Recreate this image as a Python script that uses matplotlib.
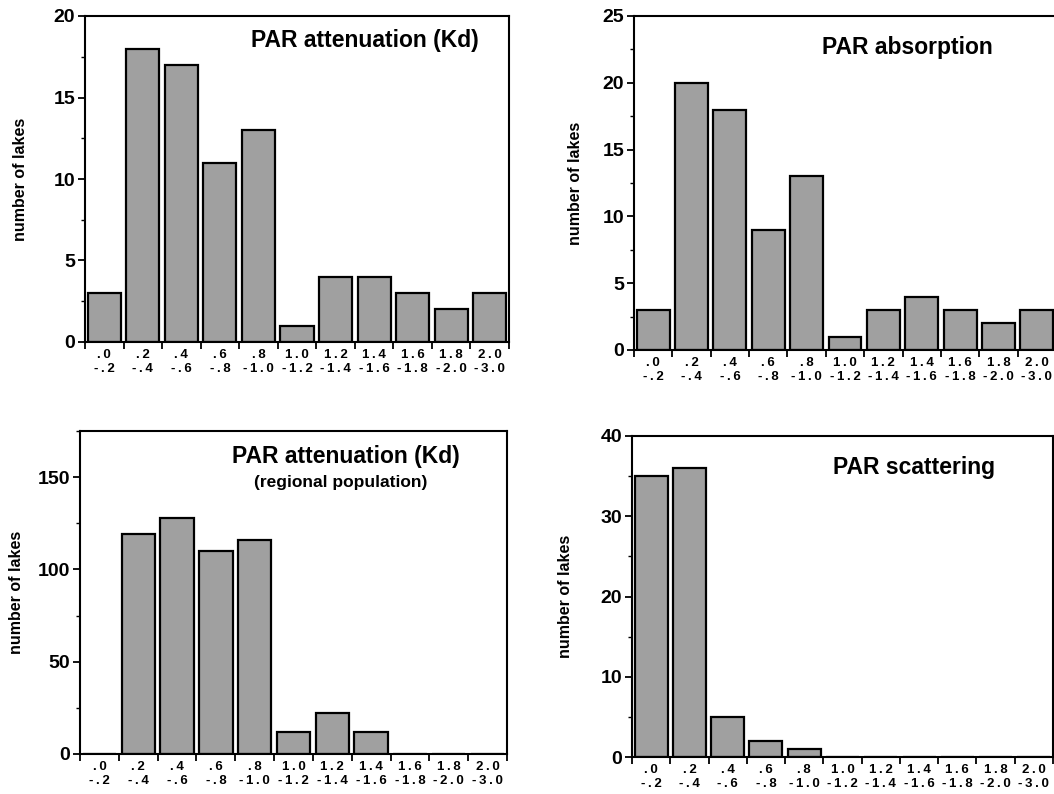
import numpy as np
import matplotlib.pyplot as plt
import matplotlib.ticker as ticker

plt.rcParams['font.family'] = ['Liberation Sans', 'DejaVu Sans']
plt.rcParams['font.weight'] = 'bold'

bins_lo = ['.0', '.2', '.4', '.6', '.8', '1.0', '1.2', '1.4', '1.6', '1.8', '2.0']
bins_hi = ['-.2', '-.4', '-.6', '-.8', '-1.0', '-1.2', '-1.4', '-1.6', '-1.8', '-2.0', '-3.0']

kd_lakes = [3, 18, 17, 11, 13, 1, 4, 4, 3, 2, 3]
absorption = [3, 20, 18, 9, 13, 1, 3, 4, 3, 2, 3]
kd_regional = [0, 119, 128, 110, 116, 12, 22, 12, 0, 0, 0]
scattering = [35, 36, 5, 2, 1, 0, 0, 0, 0, 0, 0]

W, H = 1054, 794
fig = plt.figure(figsize=(W/100, H/100), dpi=100)

def rect(l, t, r, b):
    return [l/W, 1-b/H, (r-l)/W, (b-t)/H]

def spaced(s):
    # the original labels are letter-spaced
    return '\u2009'.join(s)

def panel(box, vals, ymax, major, minor, title, tx, ty, lab_x, sub=None):
    ax = fig.add_axes(rect(*box))
    x = np.arange(len(vals))
    ax.bar(x, vals, width=0.86, color='#a0a0a0', edgecolor='black', linewidth=1.6)
    ax.set_xlim(-0.5, len(vals)-0.5)
    ax.set_ylim(0, ymax)
    ax.yaxis.set_major_locator(ticker.MultipleLocator(major))
    ax.yaxis.set_minor_locator(ticker.MultipleLocator(minor))
    ax.set_xticks(np.arange(len(vals)+1)-0.5)
    ax.set_xticklabels([])
    ax.set_xticks(x, [spaced(a) + '\n' + spaced(b) for a, b in zip(bins_lo, bins_hi)], minor=True)
    ax.tick_params(axis='x', which='major', direction='out', length=5, width=1.3)
    ax.tick_params(axis='x', which='minor', length=0, pad=5, labelsize=9.5)
    ax.tick_params(axis='y', which='major', direction='out', length=5, width=1.3, labelsize=14, pad=2)
    ax.tick_params(axis='y', which='minor', direction='out', length=3, width=1)
    for s in ax.spines.values():
        s.set_linewidth(1.5)
    for lbl in ax.get_xticklabels(minor=True):
        lbl.set_linespacing(1.25)
    ax.text(tx, ty, title, transform=ax.transAxes, ha='center', va='center', fontsize=16.5, fontweight='bold')
    if sub:
        ax.text(sub[0], sub[1], sub[2], transform=ax.transAxes, ha='center', va='center', fontsize=12.5, fontweight='bold')
    ax.set_ylabel('number of lakes', fontsize=11.5, fontweight='bold')
    ax.yaxis.set_label_coords((lab_x - box[0]) / (box[2] - box[0]), 0.5)
    return ax

panel((85, 16, 509, 342), kd_lakes, 20, 5, 2.5, 'PAR attenuation (Kd)', 0.66, 0.926, 28)
panel((634, 16, 1056, 350), absorption, 25, 5, 2.5, 'PAR absorption', 0.648, 0.907, 583)
panel((80, 431, 507, 754), kd_regional, 175, 50, 25, 'PAR attenuation (Kd)', 0.623, 0.92, 24,
      sub=(0.611, 0.842, '(regional population)'))
panel((632, 436, 1053, 757), scattering, 40, 10, 5, 'PAR scattering', 0.67, 0.903, 573)

fig.savefig('out.png', dpi=100)
